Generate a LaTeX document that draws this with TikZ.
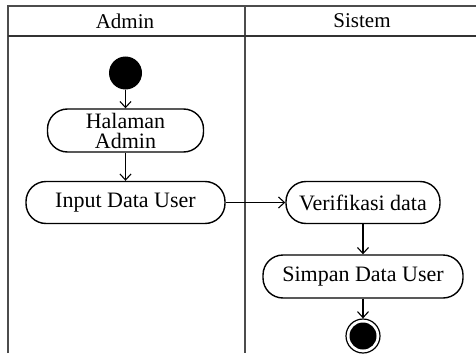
\documentclass[tikz,border=0pt]{standalone}
\usepackage{fontspec}
\setmainfont{Liberation Serif}
\usetikzlibrary{arrows.meta}
\begin{document}
\begin{tikzpicture}[
x=1pt,y=-1pt,
lane/.style={draw=black!70,line width=1.6pt},
act/.style={draw,line width=1.4pt,rounded corners=20pt,minimum height=42pt,
  inner sep=0pt,align=center,font=\fontsize{22}{20}\selectfont},
flow/.style={draw,line width=1.1pt,-{Straight Barb[length=6pt,width=11pt]}},
]
\useasboundingbox (0,0) rectangle (476,353);
% swimlanes
\path[lane]
    (8,353) -- (8,6) -- (476,6)
    (245,6) -- (245,353);
\path[lane,line width=2.4pt,draw=black!80] (8,36) -- (476,36);
\node[font=\fontsize{21}{21}\selectfont] (admin) at (125,21) {Admin};
\node[font=\fontsize{21}{21}\selectfont] (sistem) at (362,21) {Sistem};
% activities
\node[circle,fill,minimum size=33pt,inner sep=0pt] (start) at (125.5,73) {};
\node[act,minimum width=156pt,minimum height=43pt] (halaman) at (125.5,130.5) {Halaman\\Admin};
\node[act,minimum width=199pt] (input) at (125.5,202.5) {Input Data User};
\node[act,minimum width=154pt] (verif) at (363,202.5) {Verifikasi data};
\node[act,minimum width=200pt,minimum height=43pt] (simpan) at (363,276.5) {Simpan Data User};
\node[circle,draw,line width=1.2pt,minimum size=34pt,inner sep=0pt] (end) at (363,336) {};
\node[circle,fill,minimum size=27pt,inner sep=0pt] (endin) at (end) {};
% flows
\path[flow] (start) -- (halaman);
\path[flow] (halaman) -- (input);
\path[flow] (input) -- (verif);
\path[flow] (verif) -- (simpan);
\path[flow] (simpan) -- (end);
\end{tikzpicture}
\end{document}
